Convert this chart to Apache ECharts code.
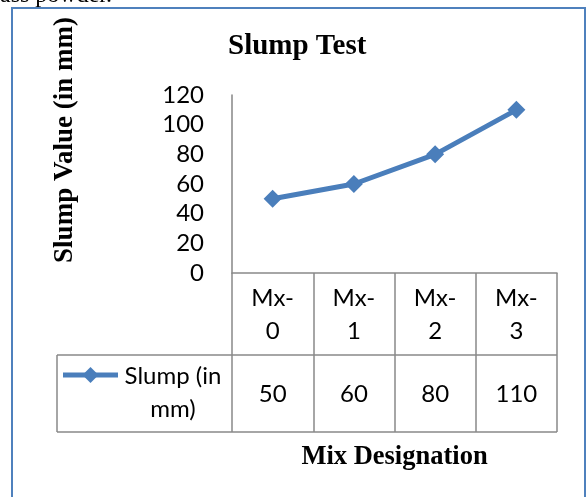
<!DOCTYPE html>
<html>
<head>
<meta charset="utf-8">
<script src="https://cdn.jsdelivr.net/npm/echarts@6/dist/echarts.min.js"></script>
<style>
  html, body { margin: 0; padding: 0; background: #fff; }
  #chart { width: 587px; height: 497px; }
</style>
</head>
<body>
<div id="chart"></div>
<script>
// data
const categories = ['Mx-0', 'Mx-1', 'Mx-2', 'Mx-3'];
const slump = [50, 60, 80, 110];
const seriesName = 'Slump (in mm)';
const yMin = 0, yMax = 120, yStep = 20;

const blue = '#4A7EBB';
const gridColor = '#898989';
const sans = 'Lato';
const serif = 'Liberation Serif';

// plot box (pixels)
const plotLeft = 232, plotRight = 557, plotTop = 95, plotBottom = 273;
const tableLeft = 57, rowMid = 355, tableBottom = 432;

let myChart = echarts.init(document.getElementById('chart'));

let option = {
  animation: false,
  title: {
    text: 'Slump Test',
    left: 223,
    top: 27,
    textStyle: { fontFamily: serif, fontWeight: 'bold', fontSize: 29, color: '#000' }
  },
  grid: {
    left: plotLeft,
    top: plotTop,
    width: plotRight - plotLeft,
    height: plotBottom - plotTop,
    containLabel: false
  },
  xAxis: {
    type: 'category',
    data: categories,
    boundaryGap: true,
    axisLine: { lineStyle: { color: gridColor, width: 1.5 } },
    axisTick: { show: true, length: tableBottom - plotBottom, lineStyle: { color: gridColor, width: 1.5 } },
    axisLabel: {
      formatter: v => v.replace('-', '-\n'),
      fontFamily: sans, fontSize: 24, lineHeight: 33, color: '#000', margin: 9
    },
    name: 'Mix Designation',
    nameLocation: 'middle',
    nameGap: 171,
    nameTextStyle: { fontFamily: serif, fontWeight: 'bold', fontSize: 26.5, color: '#000' }
  },
  yAxis: {
    type: 'value',
    min: yMin,
    max: yMax,
    interval: yStep,
    axisLine: { show: true, lineStyle: { color: '#868686', width: 1.5 } },
    axisTick: { show: false },
    splitLine: { show: false },
    axisLabel: { fontFamily: sans, fontSize: 24, color: '#000', margin: 28 }
  },
  series: [{
    name: seriesName,
    type: 'line',
    data: slump,
    symbol: 'diamond',
    symbolSize: 18,
    color: blue,
    lineStyle: { width: 5, color: blue },
    itemStyle: { color: blue }
  }]
};

myChart.setOption(option);

// table + decorations
let graphics = [
  {
    type: 'rect', shape: { x: 12, y: 8, width: 573, height: 560 },
    style: { fill: 'none', stroke: '#4F81BD', lineWidth: 2 }, silent: true
  },
  {
    type: 'text', x: 0, y: 8,
    style: { text: 'ass powder.', font: '24px "Liberation Serif"', fill: '#000', textVerticalAlign: 'bottom' }
  },
  {
    type: 'text', x: 65, y: 140, rotation: Math.PI / 2,
    style: {
      text: 'Slump Value (in mm)', font: 'bold 27px "Liberation Serif"', fill: '#000',
      textAlign: 'center', textVerticalAlign: 'middle'
    }
  },
  { type: 'line', shape: { x1: tableLeft, y1: rowMid, x2: plotRight, y2: rowMid }, style: { stroke: gridColor, lineWidth: 1.5 } },
  { type: 'line', shape: { x1: tableLeft, y1: tableBottom, x2: plotRight, y2: tableBottom }, style: { stroke: gridColor, lineWidth: 1.5 } },
  { type: 'line', shape: { x1: tableLeft, y1: rowMid, x2: tableLeft, y2: tableBottom }, style: { stroke: gridColor, lineWidth: 1.5 } },
  // legend key
  { type: 'line', shape: { x1: 63, y1: 375, x2: 118, y2: 375 }, style: { stroke: blue, lineWidth: 5 } },
  { type: 'polygon', shape: { points: [[90.5, 367], [98.5, 375], [90.5, 383], [82.5, 375]] }, style: { fill: blue } },
  {
    type: 'text', x: 173, y: 393,
    style: {
      text: seriesName.replace(' (in ', ' (in\n'), font: '24px Lato', fill: '#000',
      textAlign: 'center', textVerticalAlign: 'middle', lineHeight: 33
    }
  }
];

categories.forEach((c, i) => {
  let px = myChart.convertToPixel({ xAxisIndex: 0 }, c);
  graphics.push({
    type: 'text', x: px, y: 394,
    style: {
      text: String(slump[i]), font: '24px Lato', fill: '#000',
      textAlign: 'center', textVerticalAlign: 'middle'
    }
  });
});

myChart.setOption({ graphic: graphics });
</script>
</body>
</html>
